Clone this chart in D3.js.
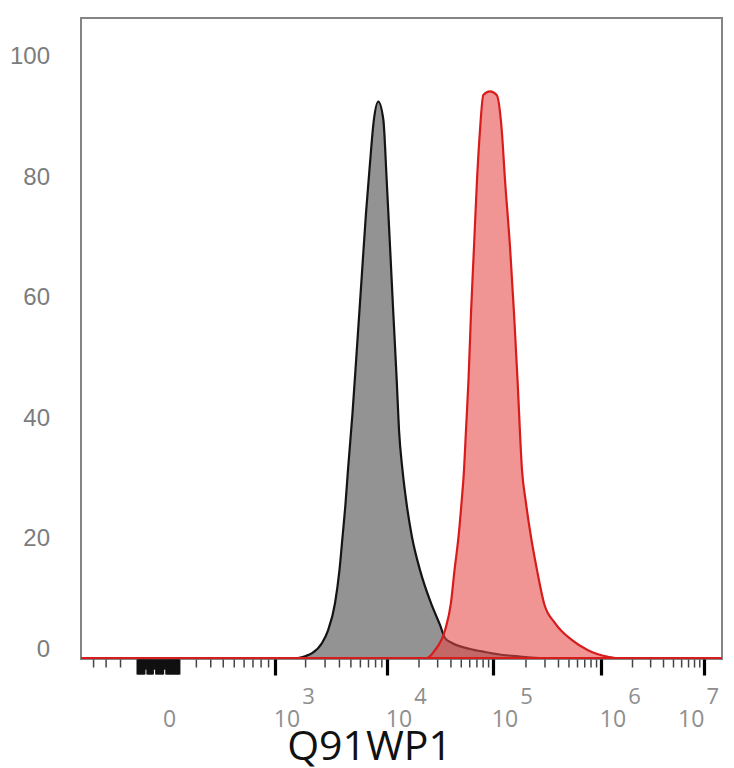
<!DOCTYPE html>
<html>
<head>
<meta charset="utf-8">
<script src="https://cdn.jsdelivr.net/npm/d3@7"></script>
<style>
body { margin: 0; background: #fff; }
svg { display: block; }
</style>
</head>
<body>
<svg id="chart" width="734" height="768"></svg>
<script>
// control (grey) histogram
var controlValues = [-510, 1700, 2000, 2320, 2850, 3220, 3700, 4040, 4290, 4550, 4770, 5210, 5680, 6190, 6740, 7270, 7770, 8500, 9340, 9940, 10700, 11500, 12400, 13040, 14090, 15390, 17350, 20670, 26260, 31900, 35600, 41400, 61000, 84000, 124000, 178000, 290000, 15000000];
var controlCounts = [0, 0, 0.3, 0.8, 2.5, 4.6, 9.1, 14.6, 20.1, 25.7, 31.2, 40.7, 51.7, 62.8, 73.9, 82.2, 88.9, 92.4, 89.4, 79.4, 68.3, 57.3, 46.2, 37.9, 31.2, 25.7, 20.1, 14.6, 9.1, 5.5, 3.3, 2.5, 1.5, 1.0, 0.5, 0.25, 0, 0];

// stained (red) histogram
var stainedValues = [-510, 24070, 28640, 35560, 40420, 43680, 47600, 50770, 53590, 55960, 59060, 62330, 66480, 70910, 75640, 81190, 93760, 108240, 120500, 129250, 143800, 156600, 168800, 185800, 202300, 225100, 255800, 296900, 375400, 535800, 758000, 1169000, 1368000, 15000000];
var stainedCounts = [0, 0, 1.3, 4.6, 9.1, 14.6, 20.1, 25.7, 31.2, 37.9, 46.2, 57.3, 68.3, 79.4, 87.7, 93.5, 94.1, 93.5, 87.7, 79.4, 68.3, 57.3, 46.2, 31.2, 25.7, 20.1, 14.6, 9.1, 5.8, 3.0, 1.3, 0.2, 0, 0];

var yTicks = [0, 20, 40, 60, 80, 100];
var decadeTicks = [1e3, 1e4, 1e5, 1e6, 1e7];
var decadeExponents = ["3", "4", "5", "6", "7"];
var nearZeroTicks = [-400, -300, -200];
var xTitle = "Q91WP1";

// minor ticks: linear around zero, then 2..9 in every decade
var clumpTicks = d3.range(-100, 101, 5);
var clumpShort = [-60, -55, -20, -15, 25, 30];
var minorTicks = nearZeroTicks.slice();
d3.range(2, 10).forEach(function(k) { minorTicks.push(k * 100); });
[1e3, 1e4, 1e5, 1e6].forEach(function(d) {
    d3.range(2, 10).forEach(function(k) { minorTicks.push(k * d); });
});

var svg = d3.select("#chart");
var pLeft = 81, pRight = 722, pTop = 18, pBottom = 658;

// biexponential-like axis: piecewise symlog
var x = d3.scaleSymlog().constant(400)
    .domain([-510, 0, 1e3, 1e4, 1e5, 1e6, 1e7, 1.5e7])
    .range([pLeft, 158, 275, 387, 493, 601, 704, pRight]);
var y = d3.scaleLinear().domain([0, 106.3]).range([pBottom, pTop]);

svg.append("defs").append("clipPath").attr("id", "plot")
    .append("rect").attr("x", pLeft).attr("y", pTop)
    .attr("width", pRight - pLeft).attr("height", pBottom - pTop + 1.5);

// frame
svg.append("rect").attr("x", pLeft).attr("y", pTop)
    .attr("width", pRight - pLeft).attr("height", pBottom - pTop + 1)
    .attr("fill", "none").attr("stroke", "#858585").attr("stroke-width", 2);

var area = d3.area()
    .x(function(d) { return x(d[0]); })
    .y0(y(0))
    .y1(function(d) { return y(d[1]); })
    .curve(d3.curveMonotoneX);

function drawHist(values, counts, fill, stroke) {
    var pts = values.map(function(v, i) { return [v, counts[i]]; });
    svg.append("path").datum(pts)
        .attr("clip-path", "url(#plot)")
        .attr("fill", fill)
        .attr("stroke", stroke)
        .attr("stroke-width", 2.2)
        .attr("stroke-linejoin", "round")
        .attr("d", area);
}
drawHist(controlValues, controlCounts, "#939393", "#141414");
drawHist(stainedValues, stainedCounts, "rgba(230,70,70,0.58)", "#d81c1c");

// x ticks
function tickAxis(values, size, width, color) {
    var g = svg.append("g").attr("transform", "translate(0," + (pBottom + 1.5) + ")")
        .call(d3.axisBottom(x).tickValues(values).tickSize(size).tickSizeOuter(0).tickFormat(""));
    g.select(".domain").remove();
    g.selectAll(".tick line").attr("stroke", color).attr("stroke-width", width);
}
tickAxis(minorTicks, 8, 1.5, "#444");
tickAxis(clumpTicks.filter(function(t) { return clumpShort.indexOf(t) < 0; }), 15, 2.2, "#111");
tickAxis(clumpShort, 10, 2.2, "#111");
tickAxis(decadeTicks, 16, 3.2, "#000");

// x labels
var xl = svg.append("g").attr("font-family", "'Open Sans', sans-serif").attr("fill", "#8e8e8e");
xl.append("text").attr("x", x(0) + 11.5).attr("y", 727)
    .attr("text-anchor", "middle").attr("font-size", 23).text("0");
decadeTicks.forEach(function(v, i) {
    var g = xl.append("g");
    var cx = x(v) + 12;
    var base = g.append("text").attr("x", cx).attr("y", 727)
        .attr("text-anchor", "middle").attr("font-size", 23).text("10");
    var w = base.node().getComputedTextLength();
    var sup = g.append("text").attr("x", cx + w / 2 + 2).attr("y", 704)
        .attr("font-size", 22).text(decadeExponents[i]);
    var end = cx + w / 2 + 2 + sup.node().getComputedTextLength();
    if (end > 719) g.attr("transform", "translate(" + (719 - end) + ",0)");
});

// y labels
svg.append("g").attr("font-family", "'Liberation Sans', Arial, sans-serif")
    .attr("fill", "#7c7c7c").attr("font-size", 24)
    .selectAll("text").data(yTicks).enter().append("text")
    .attr("x", 50).attr("text-anchor", "end")
    .attr("y", function(d) { return y(d) + 8.5 - (d === 0 ? 10 : 0); })
    .text(function(d) { return d; });

// axis title
svg.append("text").attr("x", 369.5).attr("y", 760)
    .attr("text-anchor", "middle")
    .attr("font-family", "'Open Sans', sans-serif")
    .attr("font-size", 41).attr("fill", "#111")
    .text(xTitle);
</script>
</body>
</html>
